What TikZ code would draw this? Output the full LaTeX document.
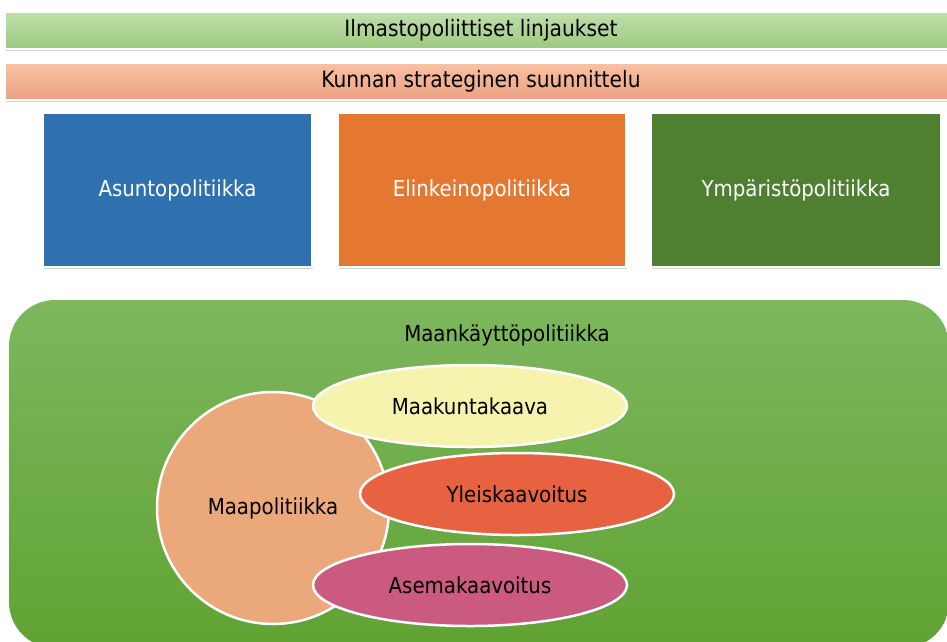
\documentclass[tikz,border=0pt]{standalone}
\usepackage{fontspec}
\setmainfont{DejaVu Sans Condensed}
\usetikzlibrary{shapes.geometric,shadows}
\definecolor{barA1}{HTML}{C0DFAB}
\definecolor{barA2}{HTML}{9CC97F}
\definecolor{barB1}{HTML}{F9C2A4}
\definecolor{barB2}{HTML}{EBA080}
\definecolor{cblue}{HTML}{2E71AE}
\definecolor{corange}{HTML}{E57830}
\definecolor{cdgreen}{HTML}{4F7F30}
\definecolor{bigG1}{HTML}{7DB75E}
\definecolor{bigG2}{HTML}{60A333}
\definecolor{ccircle}{HTML}{EBA97B}
\definecolor{cmaak}{HTML}{F5F3AE}
\definecolor{cylei}{HTML}{E66240}
\definecolor{casema}{HTML}{CB5A80}
\tikzset{
  shd/.style={drop shadow={opacity=0.35, shadow xshift=1.2pt, shadow yshift=-1.8pt}},
  barbox/.style={rectangle, draw=white, line width=2pt, shd, minimum width=953pt, minimum height=37pt, inner sep=0pt, font=\fontsize{22.5}{24}\selectfont},
  polbox/.style={rectangle, draw=white, line width=2pt, shd, minimum height=154pt, inner sep=0pt, text=white, font=\fontsize{22}{24}\selectfont},
  ell/.style={ellipse, draw=white, line width=2.5pt, shd, minimum width=314pt, minimum height=82pt, inner sep=0pt, font=\fontsize{22}{24}\selectfont},
}
\begin{document}
\begin{tikzpicture}[x=1pt,y=-1pt]
\useasboundingbox (0,0) rectangle (947,641);
\begin{scope}
\clip (0,0) rectangle (947,641);
\node[barbox, top color=barA1, bottom color=barA2] (ilm) at (481,30.5) {Ilmastopoliittiset linjaukset};
\node[barbox, top color=barB1, bottom color=barB2] (kun) at (481,81.5) {Kunnan strateginen suunnittelu};
\node[polbox, fill=cblue, minimum width=269pt] (asu) at (177.5,190) {Asuntopolitiikka};
\node[polbox, fill=corange, minimum width=288pt] (eli) at (482,190) {Elinkeinopolitiikka};
\node[polbox, fill=cdgreen, minimum width=290pt] (ymp) at (796,190) {Ympäristöpolitiikka};
\shade[top color=bigG1, bottom color=bigG2, rounded corners=46pt] (9,300) rectangle (949,648);
\node[font=\fontsize{22}{24}\selectfont] (maank) at (507,335) {Maankäyttöpolitiikka};
\node[circle, draw=white, line width=2.5pt, shd, fill=ccircle, minimum size=232pt, inner sep=0pt, font=\fontsize{22}{24}\selectfont] (maap) at (273,508) {Maapolitiikka};
\node[ell, fill=cmaak] (maak) at (470,406) {Maakuntakaava};
\node[ell, fill=cylei] (ylei) at (517,494) {Yleiskaavoitus};
\node[ell, fill=casema] (asema) at (470,585) {Asemakaavoitus};
\end{scope}
\end{tikzpicture}
\end{document}
